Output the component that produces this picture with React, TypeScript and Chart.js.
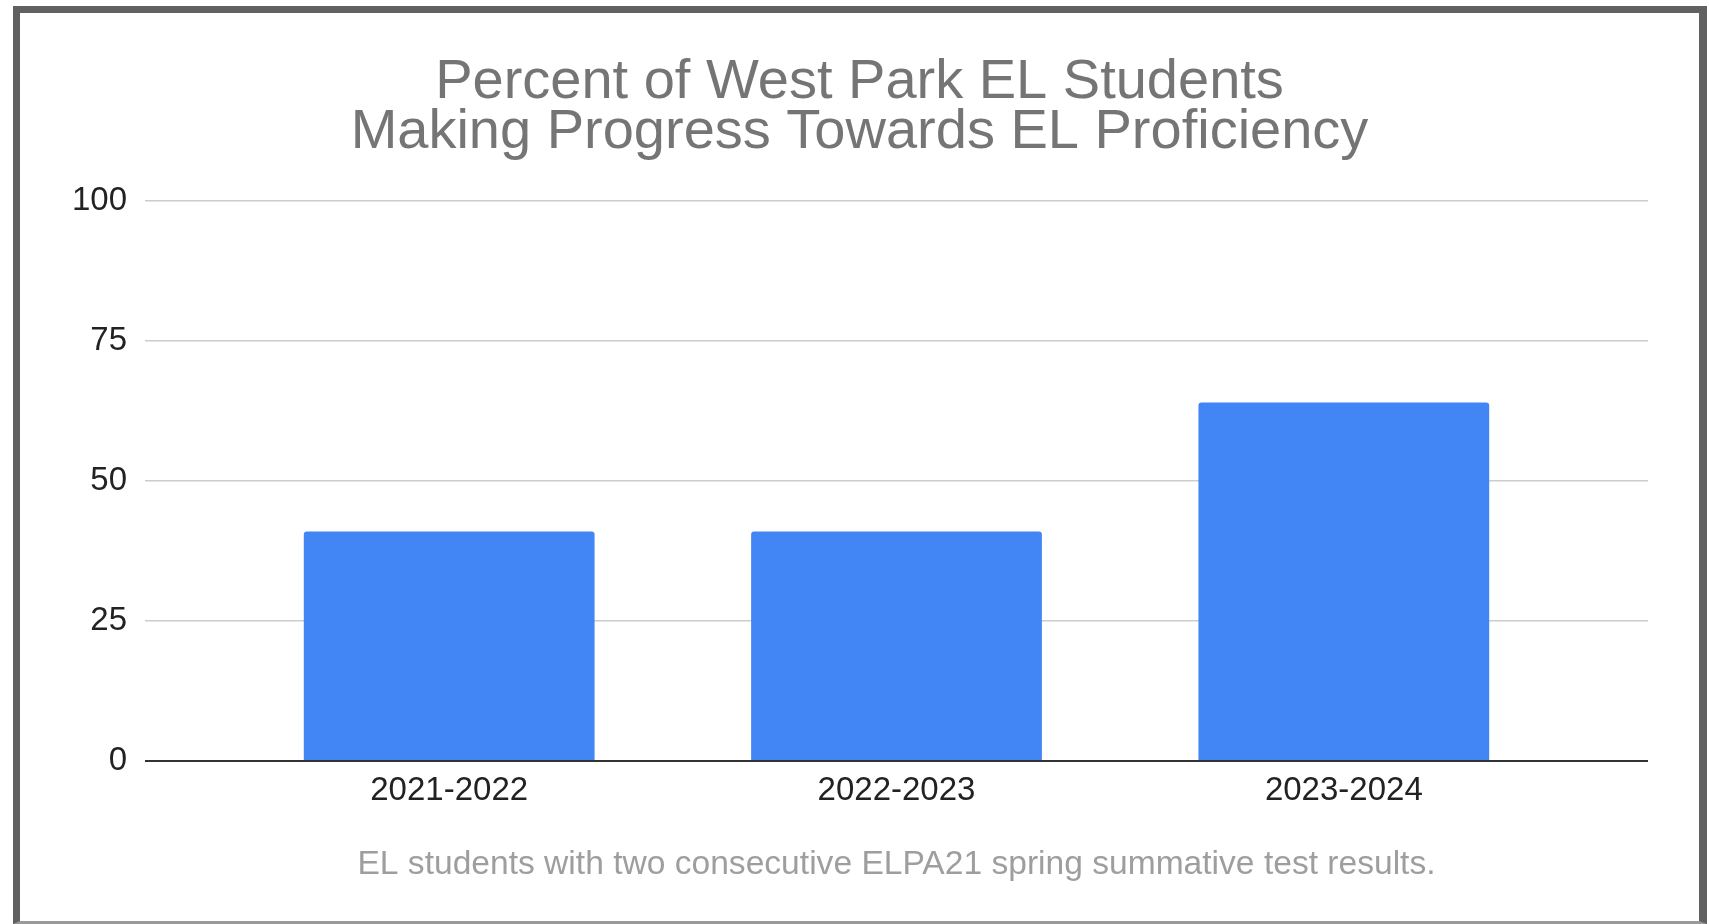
import React, { useEffect, useRef } from "react";
import { Chart, registerables } from "chart.js";

Chart.register(...registerables);

const categories: string[] = ["2021-2022", "2022-2023", "2023-2024"];
const values: number[] = [41, 41, 64];
const yTickValues: number[] = [0, 25, 50, 75, 100];
const titleLines: string[] = [
  "Percent of West Park EL Students",
  "Making Progress Towards EL Proficiency",
];
const footnote = "EL students with two consecutive ELPA21 spring summative test results.";

const FONT = "'Liberation Sans', Arial, Helvetica, sans-serif";

export default function App() {
  const ref = useRef<HTMLCanvasElement | null>(null);

  useEffect(() => {
    if (!ref.current) return;
    const chart = new Chart(ref.current, {
      type: "bar",
      data: {
        datasets: [
          {
            data: values.map((v, i) => ({ x: i, y: v })),
            backgroundColor: "#4285f4",
            borderRadius: { topLeft: 3, topRight: 3, bottomLeft: 0, bottomRight: 0 },
            borderSkipped: "bottom",
            barPercentage: 0.65,
            categoryPercentage: 1,
          },
        ],
      },
      options: {
        responsive: false,
        animation: false,
        layout: { padding: { left: 71, right: 61, top: 0, bottom: 0 } },
        plugins: {
          legend: { display: false },
          tooltip: { enabled: false },
          title: {
            display: true,
            text: titleLines,
            color: "#757575",
            font: { family: FONT, size: 56, weight: "normal", lineHeight: 0.893 },
            padding: { top: 58, bottom: 43 },
          },
        },
        scales: {
          x: {
            type: "linear",
            offset: false,
            min: -0.68,
            max: 2.68,
            grid: { display: false, drawTicks: false },
            border: { display: false },
            afterBuildTicks: (s: any) => {
              s.ticks = categories.map((_, i) => ({ value: i }));
            },
            afterFit: (s: any) => {
              s.height = 163;
            },
            ticks: {
              autoSkip: false,
              maxRotation: 0,
              padding: 10,
              color: "#222222",
              font: { family: FONT, size: 33 },
              callback: (v: any) => categories[Number(v)] ?? "",
            },
            title: {
              display: true,
              text: footnote,
              color: "#9e9e9e",
              font: { family: FONT, size: 33.6, weight: "normal", lineHeight: 1.2 },
              padding: { top: 0, bottom: 39 },
            },
          },
          y: {
            min: 0,
            max: 100,
            afterBuildTicks: (s: any) => {
              s.ticks = yTickValues.map((v) => ({ value: v }));
            },
            afterFit: (s: any) => {
              s.width = 74;
            },
            grid: {
              drawTicks: false,
              color: (ctx: any) => (ctx.tick && ctx.tick.value === 0 ? "#333333" : "#cccccc"),
              lineWidth: (ctx: any) => (ctx.tick && ctx.tick.value === 0 ? 2 : 1.5),
            },
            border: { display: false },
            ticks: {
              padding: 18,
              color: "#222222",
              font: { family: FONT, size: 33 },
            },
          },
        },
      },
    });
    return () => chart.destroy();
  }, []);

  return (
    <div style={{ position: "fixed", left: 0, top: 0, width: 1709, height: 924, background: "#ffffff" }}>
      <div
        style={{
          position: "absolute",
          left: 13,
          top: 6,
          width: 1694,
          height: 918,
          boxSizing: "border-box",
          borderStyle: "solid",
          borderColor: "#616161 #616161 #9a9a9a #616161",
          borderWidth: "7px 8px 3px 7px",
        }}
      />
      <canvas
        ref={ref}
        width={1709}
        height={924}
        style={{ position: "absolute", left: 0, top: 0, width: 1709, height: 924 }}
      />
    </div>
  );
}
